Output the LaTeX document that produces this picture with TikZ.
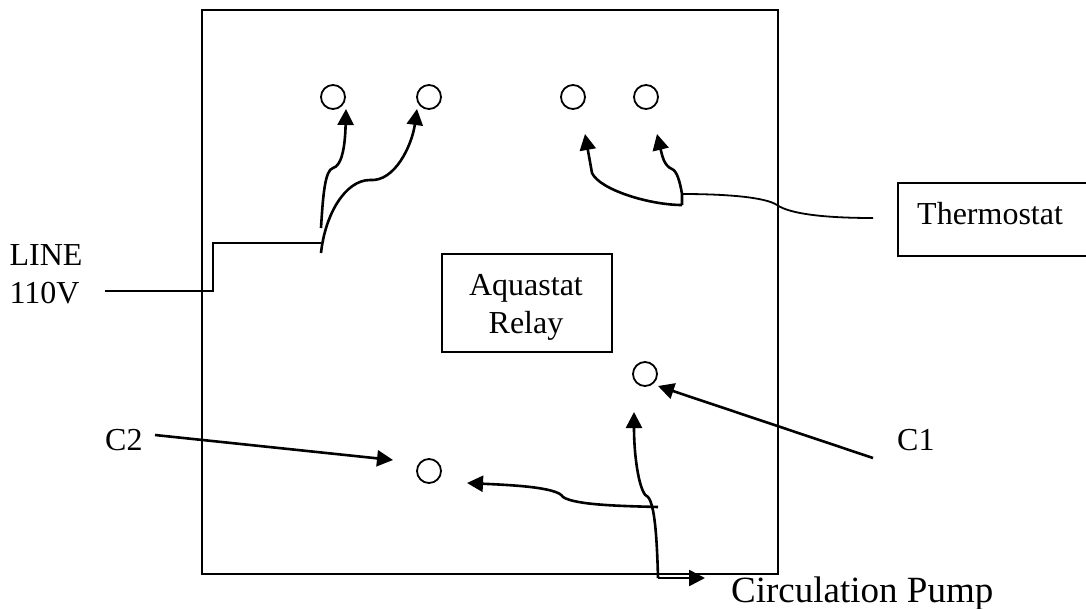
\documentclass[tikz,border=0pt]{standalone}
\usepackage{fontspec}
\setmainfont{Liberation Serif}
\usetikzlibrary{arrows.meta}
\begin{document}
\begin{tikzpicture}[x=1pt,y=-1pt,
term/.style ={circle, draw, line width=1.8pt, inner sep=0pt, minimum size=24pt},
block/.style ={rectangle, draw, line width=1.8pt, inner sep=0pt, text centered},
tag/.style ={inner sep=0pt, font=\fontsize{32}{38}\selectfont, align=left},
wire/.style ={line width=2.6pt},
thin wire/.style ={line width=1.8pt},
lead/.style ={wire, -{Triangle[length=16pt,width=16pt]}}
]
\useasboundingbox (0,0) rectangle (1086,608);
\node (panel) at (490,292) [block, minimum width=576pt, minimum height=564pt] {};
% terminals
\node (t1) at (333,97) [term] {};
\node (t2) at (429,97) [term] {};
\node (t3) at (573,97) [term] {};
\node (t4) at (646,97) [term] {};
\node (t5) at (645,374) [term] {};
\node (t6) at (429,471) [term] {};
% boxes
\node (relay) at (527,303) [block, minimum width=170pt, minimum height=98pt] {};
\node (relaytext) at (526,307) [tag, align=center] {Aquastat\\Relay};
\node (stat) at (917,224) [tag, anchor=base west] {Thermostat};
% labels
\node (line) at (46,274) [tag] {LINE\\110V};
\node (c2) at (105,450) [tag, anchor=base west] {C2};
\node (c1) at (897,450) [tag, anchor=base west] {C1};
\node (pump) at (731,602) [tag, anchor=base west, font=\fontsize{37}{42}\selectfont] {Circulation Pump};
% thermostat outline runs off the page
\coordinate (sa) at (1086,183);
\coordinate (sb) at (898,183);
\coordinate (sc) at (898,256);
\coordinate (sd) at (1086,256);
\draw[thin wire] (sa) -- (sb) -- (sc) -- (sd);
% line in
\coordinate (la) at (105,291);
\coordinate (lb) at (213,291);
\coordinate (lc) at (213,243);
\coordinate (ld) at (321,243);
\coordinate (le) at (321,253);
\coordinate (lf) at (321,228);
\coordinate (lg) at (370,180);
\coordinate (lh) at (333,168);
\coordinate (a1) at (346,109);
\coordinate (a2) at (417,109);
\draw[thin wire] (la) -- (lb) -- (lc) -- (ld);
\draw[lead] (lf) .. controls (323,195) and (325,170) .. (lh) .. controls (341,166) and (345,150) .. (a1);
\draw[lead] (le) .. controls (325,215) and (345,180) .. (lg) .. controls (395,182) and (412,145) .. (a2);
% thermostat wires
\coordinate (ma) at (873,218);
\coordinate (mb) at (777,205);
\coordinate (mc) at (682,194);
\coordinate (md) at (682,205);
\coordinate (me) at (672,169);
\coordinate (mf) at (592,173);
\coordinate (a3) at (585,134);
\coordinate (a4) at (657,134);
\draw[thin wire] (ma) .. controls (825,218) and (790,214) .. (mb) .. controls (765,197) and (725,194) .. (mc);
\draw[lead] (md) -- (mc) .. controls (680,182) and (677,171) .. (me) .. controls (664,166) and (662,155) .. (a4);
\draw[lead] (md) .. controls (650,205) and (600,190) .. (mf) -- (a3);
% pump wires
\coordinate (pa) at (658,578);
\coordinate (pb) at (648,497);
\coordinate (pc) at (658,507);
\coordinate (pd) at (563,497);
\coordinate (a5) at (634,412);
\coordinate (a6) at (467,483);
\coordinate (a7) at (705,578);
\draw[lead] (pa) -- (a7);
\draw[lead] (pa) .. controls (657,540) and (655,505) .. (pb) .. controls (640,495) and (634,460) .. (a5);
\draw[lead] (pc) .. controls (620,506) and (575,505) .. (pd) .. controls (558,487) and (510,485) .. (a6);
% labels to terminals
\coordinate (c1s) at (873,458);
\coordinate (c2s) at (155,435);
\coordinate (a8) at (658,386);
\coordinate (a9) at (393,460);
\draw[lead] (c1s) -- (a8);
\draw[lead] (c2s) -- (a9);
\end{tikzpicture}
\end{document}
